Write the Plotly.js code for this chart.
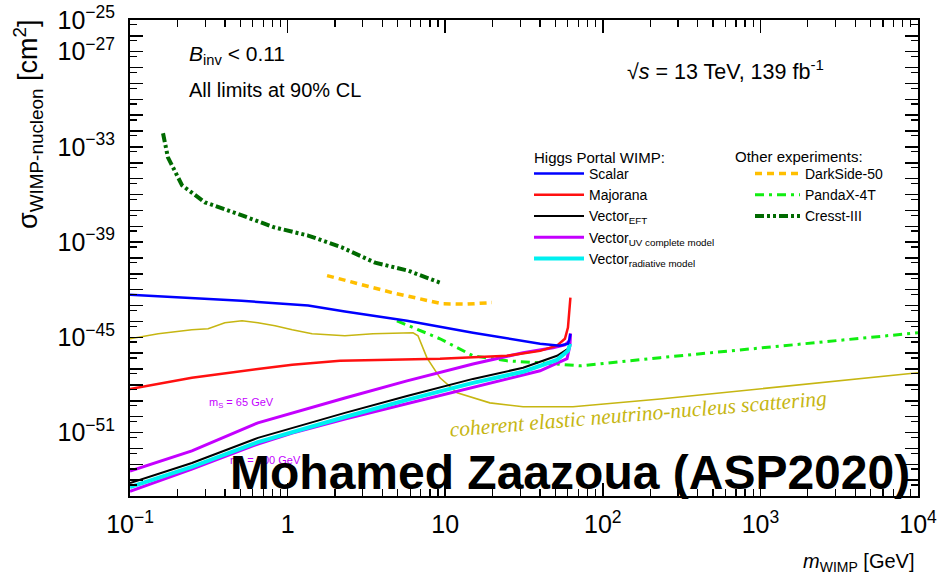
<!DOCTYPE html>
<html><head><meta charset="utf-8">
<script src="https://cdn.plot.ly/plotly-3.0.1.min.js"></script>
<style>html,body{margin:0;padding:0;background:#fff;} #chart{width:946px;height:577px;}</style>
</head><body><div id="chart"></div>
<script>
// ---------------- data (mass in GeV, cross-section in cm^2) ----------------
const scalarMass  = [0.1, 0.51, 1.35, 2.31, 5.72, 15.0, 40.0, 53.5, 60.1, 61.5, 62.3];
const scalarSigma = [4.9e-43, 2.0e-43, 1.0e-43, 4.2e-44, 1.1e-44, 1.95e-45, 4.0e-46, 3.0e-46, 4.0e-46, 8.0e-46, 1.7e-45];

const majoranaMass  = [0.1, 0.247, 0.648, 1.07, 2.15, 9.27, 24.7, 40.0, 51.2, 57.5, 60.1, 62.3];
const majoranaSigma = [5.6e-49, 2.8e-48, 1.0e-47, 1.86e-47, 3.3e-47, 4.5e-47, 6.9e-47, 1.4e-46, 3.0e-46, 8.1e-46, 4.1e-45, 3.2e-43];

const vecEftMass  = [0.1, 0.247, 0.648, 1.07, 2.31, 5.72, 15.0, 31.2, 51.2, 60.1, 62.0];
const vecEftSigma = [6.5e-55, 1.2e-53, 4.6e-52, 1.95e-51, 1.74e-50, 2.0e-49, 2.4e-48, 1.2e-47, 6.9e-47, 1.9e-46, 4.0e-46];

const vecRadMass  = [0.1, 0.247, 0.648, 1.07, 2.31, 5.72, 15.0, 31.2, 51.2, 60.1, 62.0];
const vecRadSigma = [3.6e-55, 6.8e-54, 2.5e-52, 1.1e-51, 9.5e-51, 1.15e-49, 1.35e-48, 6.8e-48, 3.8e-47, 1.4e-46, 4.0e-46];

const vecUv65Mass  = [0.1, 0.247, 0.648, 1.07, 2.31, 5.72, 15.0, 31.2, 48.3, 57.5, 61.5, 62.3];
const vecUv65Sigma = [3.7e-54, 6.9e-53, 4.1e-51, 1.74e-50, 1.5e-49, 1.8e-48, 2.1e-47, 1.07e-46, 2.2e-46, 3.4e-46, 6.0e-46, 1.7e-45];

const vecUv100Mass  = [0.1, 0.247, 0.648, 1.07, 2.31, 5.72, 15.0, 40.0, 59.3, 61.9, 62.3];
const vecUv100Sigma = [2.0e-55, 5.0e-54, 1.9e-52, 9.3e-52, 7.2e-51, 6.5e-50, 6.6e-49, 7.8e-48, 4.5e-47, 3.0e-46, 1.7e-45];

const darksideMass  = [1.78, 4.59, 9.55, 13.7, 19.8];
const darksideSigma = [7.8e-42, 6.6e-43, 1.3e-43, 1.23e-43, 1.55e-43];

const pandaxMass  = [4.94, 9.27, 15.0, 24.7, 40.0, 71.6, 231, 994, 4280, 10000];
const pandaxSigma = [1.1e-44, 8.1e-46, 6.9e-47, 3.3e-47, 2.5e-47, 1.6e-47, 5.2e-47, 2.2e-46, 9.3e-46, 1.95e-45];

const cresstMass  = [0.162, 0.174, 0.214, 0.299, 0.514, 0.832, 1.35, 2.21, 3.59, 5.81, 9.55];
const cresstSigma = [7.3e-33, 2.2e-34, 3.8e-36, 3.2e-37, 4.8e-38, 8.3e-39, 2.6e-39, 4.6e-40, 5.1e-41, 1.6e-41, 2.5e-42];

const nuFloorMass  = [0.1, 0.151, 0.247, 0.313, 0.40, 0.514, 0.648, 0.832, 1.07, 1.43, 2.31, 3.48, 6.25, 6.72, 7.66, 9.27, 11.9, 19.2, 31.2, 64.7, 231, 994, 4280, 10000];
const nuFloorSigma = [8.1e-46, 1.7e-45, 3.0e-45, 3.5e-45, 8.3e-45, 1.1e-44, 8.3e-45, 5.4e-45, 3.0e-45, 1.7e-45, 1.26e-45, 1.7e-45, 1.95e-45, 1.26e-45, 5.1e-47, 2.8e-48, 3.2e-49, 7.4e-50, 4.2e-50, 4.2e-50, 1.3e-49, 5.6e-49, 2.4e-48, 5.8e-48];

const xTickVals = [0.1, 1, 10, 100, 1000, 10000];
const xTickText = ['10<sup>−1</sup>', '1', '10', '10<sup>2</sup>', '10<sup>3</sup>', '10<sup>4</sup>'];
const yLabelExps = [-25, -27, -33, -39, -45, -51];

// ---------------- axis tick helpers ----------------
const xMinor = [];
for (let e = -1; e < 4; e++) for (let k = 2; k <= 9; k++) xMinor.push(k * Math.pow(10, e));
const yTickVals = [], yTickText = [], yMinor = [];
for (let e = -55; e <= -25; e++) {
  yTickVals.push(Math.pow(10, e));
  yTickText.push(yLabelExps.includes(e) ? '10<sup>−' + (-e) + '</sup>' : '');
  if (e > -55) yMinor.push(0.5 * Math.pow(10, e));
}

const FONT = 'Liberation Sans, Arial, Helvetica, sans-serif';
const L = 130, T = 20, W = 788, H = 476;
const fx = p => (p - L) / W;
const fy = p => (T + H - p) / H;

const MAG = '#c400ff';
const OLIVE = '#c6b612';
function line(x, y, name, color, width, dash, extra) {
  return Object.assign({x, y, name, type: 'scatter', mode: 'lines',
    line: {color, width, dash: dash || 'solid'}, hoverinfo: 'skip'}, extra || {});
}

const traces = [
  line(nuFloorMass, nuFloorSigma, 'nu floor', OLIVE, 1.6, null, {showlegend: false}),
  line(darksideMass, darksideSigma, 'DarkSide-50', '#ffbf00', 3.5, '7px,5px', {legend: 'legend2', legendrank: 1}),
  line(pandaxMass, pandaxSigma, 'PandaX-4T', '#11ee11', 3, '9px,5px,3px,5px', {legend: 'legend2', legendrank: 2}),
  line(cresstMass, cresstSigma, 'Cresst-III', '#006a00', 4, '9px,3px,3px,3px,3px,3px', {legend: 'legend2', legendrank: 3}),
  line(vecUv100Mass, vecUv100Sigma, 'uv100', MAG, 3, null, {showlegend: false}),
  line(vecUv65Mass, vecUv65Sigma, 'Vector<sub>UV complete model</sub>', MAG, 3, null, {legendrank: 4}),
  line(vecEftMass, vecEftSigma, 'Vector<sub>EFT</sub>', '#000000', 2, null, {legendrank: 3}),
  line(vecRadMass, vecRadSigma, 'Vector<sub>radiative model</sub>', '#00f0f0', 4, null, {legendrank: 5}),
  line(majoranaMass, majoranaSigma, 'Majorana', '#ff1010', 2.5, null, {legendrank: 2}),
  line(scalarMass, scalarSigma, 'Scalar', '#0000ff', 2.5, null, {legendrank: 1}),
];

const ann = (x, y, text, size, opts) => Object.assign({
  xref: 'paper', yref: 'paper', x: fx(x), y: fy(y), text, showarrow: false,
  xanchor: 'left', yanchor: 'middle', font: {family: FONT, size, color: '#000'}
}, opts || {});

const layout = {
  width: 946, height: 577,
  margin: {l: L, r: 946 - L - W, t: T, b: 577 - T - H, pad: 0},
  paper_bgcolor: '#fff', plot_bgcolor: '#fff',
  font: {family: FONT, color: '#000'},
  xaxis: {
    type: 'log', range: [-1, 4], tickmode: 'array', tickvals: xTickVals, ticktext: xTickText,
    ticks: 'inside', ticklen: 13, tickwidth: 1.5, tickcolor: '#000',
    showline: true, linecolor: '#000', linewidth: 2, mirror: 'ticks',
    showgrid: false, zeroline: false, tickfont: {size: 25, family: FONT}, ticklabelstandoff: 5,
    minor: {tickmode: 'array', tickvals: xMinor, ticks: 'inside', ticklen: 7, tickwidth: 1.3, tickcolor: '#000', showgrid: false}
  },
  yaxis: {
    type: 'log', range: [-55, -25], tickmode: 'array', tickvals: yTickVals, ticktext: yTickText,
    ticks: 'inside', ticklen: 13, tickwidth: 1.5, tickcolor: '#000',
    showline: true, linecolor: '#000', linewidth: 2, mirror: 'ticks',
    showgrid: false, zeroline: false, tickfont: {size: 25, family: FONT}, ticklabelstandoff: 8,
    minor: {tickmode: 'array', tickvals: yMinor, ticks: 'inside', ticklen: 7, tickwidth: 1.3, tickcolor: '#000', showgrid: false}
  },
  showlegend: true,
  legend: {
    x: fx(529), y: fy(158), xanchor: 'left', yanchor: 'top', xref: 'paper', yref: 'paper',
    bgcolor: 'rgba(0,0,0,0)', borderwidth: 0, font: {family: FONT, size: 14, color: '#000'},
    itemwidth: 50, tracegroupgap: 0, traceorder: 'normal', itemclick: false
  },
  legend2: {
    x: fx(750), y: fy(158), xanchor: 'left', yanchor: 'top', xref: 'paper', yref: 'paper',
    bgcolor: 'rgba(0,0,0,0)', borderwidth: 0, font: {family: FONT, size: 14, color: '#000'},
    itemwidth: 45, tracegroupgap: 0, traceorder: 'normal', itemclick: false
  },
  annotations: [
    ann(532, 157, 'Higgs Portal WIMP:', 15),
    ann(733, 156, 'Other experiments:', 15),
    ann(187, 55, '<i>B</i><sub>inv</sub> &lt; 0.11', 21),
    ann(187, 90, 'All limits at 90% CL', 20),
    ann(625, 70, '√<i>s</i> = 13 TeV, 139 fb<sup>-1</sup>', 21.5),
    ann(28, 17, 'σ<sub>WIMP-nucleon</sub> [cm<sup>2</sup>]', 27, {xanchor: 'center', yanchor: 'top', textangle: -90}),
    ann(916, 562, '<i>m</i><sub>WIMP</sub> [GeV]', 20, {xanchor: 'right'}),
    ann(207, 403, 'm<sub>S</sub> = 65 GeV', 11, {font: {family: FONT, size: 11, color: MAG}}),
    ann(228, 461, 'm<sub>S</sub> = 100 GeV', 11, {font: {family: FONT, size: 11, color: MAG}}),
    ann(638, 414, '<i>coherent elastic neutrino-nucleus scattering</i>', 21.5,
        {xanchor: 'center', textangle: -4.8, font: {family: 'Liberation Serif, Times New Roman, serif', size: 21.5, color: OLIVE}}),
    ann(228, 472, '<b>Mohamed Zaazoua (ASP2020)</b>', 48)
  ]
};

Plotly.newPlot('chart', traces, layout, {staticPlot: true, displayModeBar: false});
</script>
</body></html>
